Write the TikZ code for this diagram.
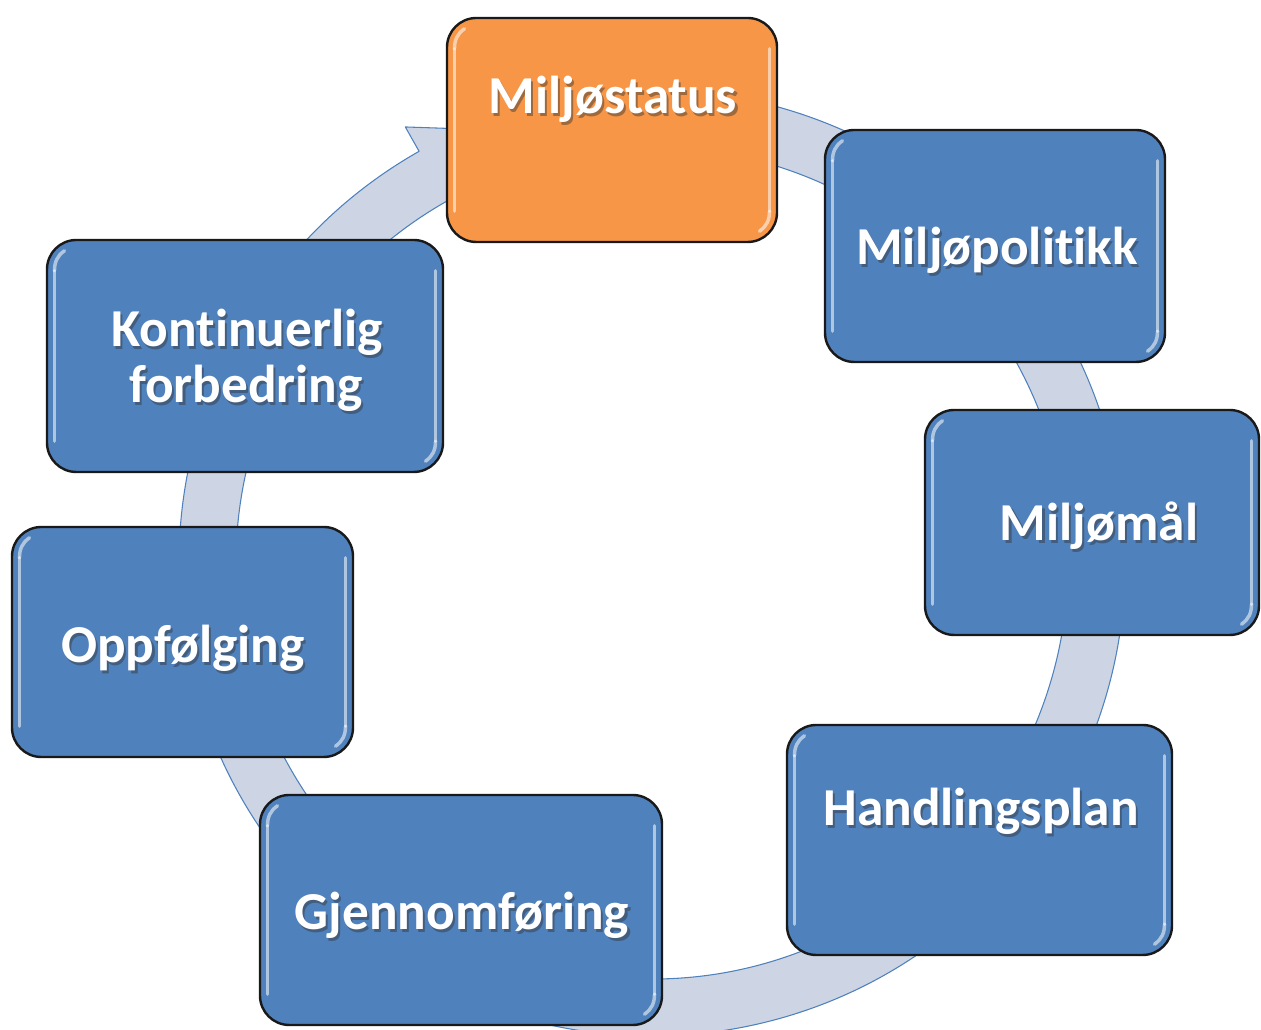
\documentclass[tikz,border=0pt]{standalone}
\usepackage{fontspec}
\setmainfont{Carlito}[Ligatures={NoCommon}]
\usetikzlibrary{calc}
\definecolor{boxblue}{RGB}{79,129,189}
\definecolor{boxorange}{RGB}{247,150,70}
\definecolor{ringfill}{RGB}{205,213,228}
\definecolor{ringline}{RGB}{79,129,189}
\newcommand{\glossbox}[1]{%
  \draw[hilite] ([xshift=6.5pt,yshift=-24pt]#1.north west) -- ([xshift=6.5pt,yshift=24pt]#1.south west);
  \draw[hilite] ([xshift=-6.5pt,yshift=-24pt]#1.north east) -- ([xshift=-6.5pt,yshift=24pt]#1.south east);
  \draw[hilite] ([xshift=6.5pt,yshift=-24pt]#1.north west) to[out=90,in=215] ([xshift=14pt,yshift=-9pt]#1.north west);
  \draw[hilite] ([xshift=-6.5pt,yshift=24pt]#1.south east) to[out=-90,in=35] ([xshift=-14pt,yshift=9pt]#1.south east);
}
\newcommand{\boxlabel}[4]{%
  \node[shd] at (#2,#3) {#4};
  \node[lbl] (#1) at (#2,#3) {#4};
}
\begin{document}
\begin{tikzpicture}[x=0.75pt,y=0.75pt,
  box/.style={draw=black!90, line width=1.8pt, rounded corners=22pt, fill=boxblue, inner sep=0pt},
  orangebox/.style={box, fill=boxorange},
  hilite/.style={draw=white, opacity=0.55, line width=2.6pt, line cap=round},
  lbl/.style={text=white, font=\fontsize{40}{42}\selectfont\bfseries, inner sep=0pt, anchor=base},
  shd/.style={lbl, text=black!80, opacity=0.45, xshift=1.6pt, yshift=-1.6pt},
  ring/.style={draw=ringline, fill=ringfill, line width=0.8pt, line join=round}
]
\useasboundingbox (0,0) rectangle (1261,1030);
\coordinate (C) at (652,467);
% cycle arrow
\draw[ring]
  ($(C)+(100:473)$) arc[start angle=100, end angle=-240.5, radius=473]
  -- ($(C)+(119.5:501)$) -- ($(C)+(104:444.5)$) -- ($(C)+(119.5:388)$) -- ($(C)+(119.5:416)$)
  arc[start angle=119.5, end angle=460, radius=416] -- cycle;
% boxes
\node[orangebox, minimum width=247.5pt, minimum height=168pt] (b1) at (612,900) {};
\node[box, minimum width=255pt, minimum height=174pt] (b2) at (995,784) {};
\node[box, minimum width=250.5pt, minimum height=168.75pt] (b3) at (1092,507.5) {};
\node[box, minimum width=288.75pt, minimum height=172.5pt] (b4) at (979.5,190) {};
\node[box, minimum width=301.5pt, minimum height=172.5pt] (b5) at (461,120) {};
\node[box, minimum width=255.75pt, minimum height=172.5pt] (b6) at (182.5,388) {};
\node[box, minimum width=297pt, minimum height=174pt] (b7) at (245,674) {};
\glossbox{b1}\glossbox{b2}\glossbox{b3}\glossbox{b4}\glossbox{b5}\glossbox{b6}\glossbox{b7}
% labels
\boxlabel{t1}{613}{916}{Miljøstatus}
\boxlabel{t2}{997}{765}{Miljøpolit\kern0pt ikk}
\boxlabel{t3}{1099}{489}{Miljømål}
\boxlabel{t4}{981}{204}{Handlingsplan}
\boxlabel{t5}{462}{100}{Gjennomføring}
\boxlabel{t6}{183}{367}{Oppfølging}
\boxlabel{t7a}{247}{683}{Kont\kern0pt inuerlig}
\boxlabel{t7b}{246}{627}{forbedring}
\end{tikzpicture}
\end{document}
